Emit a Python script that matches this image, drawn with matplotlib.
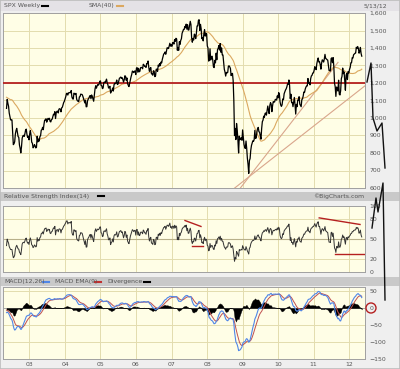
import numpy as np
import pandas as pd
import matplotlib
matplotlib.use("Agg")
import matplotlib.pyplot as plt
from matplotlib.lines import Line2D
from matplotlib.patches import Rectangle, Ellipse

# ---------------- data: SPX weekly closes (week ending Friday) ----------------
first_week = "2001-07-06"
close = [
    # 2001 Jul-Dec
    1190.59, 1215.68, 1210.85, 1205.82,
    1214.35, 1190.16, 1161.97, 1184.93, 1133.58,
    1085.78, 1092.54, 965.80, 1040.94,
    1071.38, 1091.65, 1073.48, 1104.61,
    1087.20, 1120.31, 1138.65, 1150.34, 1139.45,
    1158.31, 1123.09, 1144.89, 1161.02,
    # 2002
    1172.51, 1145.60, 1127.58, 1133.28,
    1122.20, 1096.22, 1104.18, 1089.84,
    1131.78, 1164.31, 1166.16, 1148.70, 1147.39,
    1122.73, 1111.01, 1125.17, 1076.32,
    1073.43, 1054.99, 1106.59, 1083.82, 1067.14,
    1027.53, 1007.27, 989.14, 989.82,
    989.03, 921.39, 847.75, 852.84,
    864.24, 908.64, 928.77, 940.86, 916.07,
    893.92, 889.81, 845.39, 827.37,
    800.58, 835.32, 884.39, 897.65,
    900.96, 894.74, 909.83, 930.55, 936.31,
    906.55, 889.48, 895.76, 875.40,
    # 2003
    908.59, 927.57, 901.78, 861.40, 855.70,
    829.69, 834.89, 848.17, 841.15,
    828.89, 833.27, 895.79, 863.50,
    878.85, 868.30, 893.58, 898.81,
    930.08, 933.41, 946.67, 933.22, 963.59,
    987.76, 988.61, 995.69, 976.22,
    985.70, 998.14, 993.32, 998.68,
    980.15, 977.59, 990.67, 993.06, 1008.01,
    1021.39, 1018.63, 1036.30, 996.85,
    1029.85, 1038.06, 1039.32, 1028.91, 1050.71,
    1053.21, 1050.35, 1035.28, 1058.20,
    1061.50, 1074.14, 1088.66, 1095.89,
    # 2004
    1108.48, 1121.86, 1139.83, 1141.55, 1131.13,
    1142.76, 1145.81, 1144.11, 1144.94,
    1156.86, 1120.57, 1109.78, 1108.06,
    1141.81, 1139.32, 1134.61, 1140.60, 1107.30,
    1098.70, 1095.70, 1093.56, 1120.68,
    1122.50, 1136.47, 1135.02, 1134.43,
    1125.38, 1112.81, 1101.39, 1086.20, 1101.72,
    1063.97, 1064.80, 1098.35, 1107.77,
    1113.63, 1123.92, 1128.55, 1110.11,
    1131.50, 1122.14, 1108.20, 1095.74, 1130.20,
    1166.17, 1184.17, 1170.34, 1182.65,
    1191.17, 1188.00, 1194.20, 1210.13, 1211.92,
    # 2005
    1186.19, 1184.52, 1167.87, 1171.36,
    1203.03, 1205.30, 1201.59, 1211.37,
    1222.12, 1200.08, 1190.21, 1171.42,
    1172.92, 1181.20, 1142.62, 1152.12, 1156.85,
    1171.35, 1154.05, 1189.28, 1198.78,
    1196.02, 1200.93, 1216.96, 1191.57,
    1194.44, 1211.86, 1227.92, 1229.35, 1234.18,
    1226.42, 1230.39, 1219.71, 1205.10,
    1218.02, 1241.48, 1237.91, 1215.29, 1228.81,
    1195.90, 1186.57, 1179.59, 1198.41,
    1220.14, 1234.72, 1248.27, 1268.25,
    1265.08, 1259.37, 1267.32, 1268.66, 1248.29,
    # 2006
    1285.45, 1287.61, 1261.49, 1283.72,
    1264.03, 1266.99, 1287.24, 1289.43,
    1287.23, 1281.42, 1307.25, 1302.95, 1294.83,
    1295.50, 1289.12, 1311.28, 1310.61,
    1325.76, 1291.24, 1267.03, 1280.16,
    1288.22, 1252.30, 1251.54, 1244.50, 1270.20,
    1265.48, 1236.20, 1240.29, 1278.55,
    1279.36, 1266.74, 1302.30, 1295.09,
    1311.01, 1298.92, 1319.66, 1314.78, 1335.85,
    1349.59, 1365.62, 1368.60, 1377.34,
    1364.30, 1380.90, 1401.20, 1400.95,
    1396.71, 1409.84, 1427.09, 1410.76, 1418.30,
    # 2007
    1409.71, 1430.73, 1430.50, 1422.18,
    1448.39, 1438.06, 1455.54, 1451.19,
    1387.17, 1402.84, 1386.95, 1436.11, 1420.86,
    1443.76, 1452.85, 1484.35, 1494.07,
    1505.62, 1505.85, 1522.75, 1515.73,
    1536.34, 1507.67, 1532.91, 1502.56, 1503.35,
    1530.44, 1552.50, 1534.10, 1458.95,
    1433.06, 1453.64, 1445.94, 1479.37, 1473.99,
    1453.55, 1484.25, 1525.75, 1526.75,
    1557.59, 1561.80, 1500.63, 1535.28,
    1509.65, 1453.70, 1458.74, 1440.70, 1481.14,
    1504.66, 1467.95, 1484.46, 1478.49,
    # 2008
    1411.63, 1401.02, 1325.19, 1330.61,
    1395.42, 1331.29, 1349.99, 1353.11, 1330.63,
    1293.37, 1288.14, 1329.51, 1315.22,
    1370.40, 1332.83, 1390.33, 1397.84,
    1413.90, 1388.28, 1425.35, 1375.93, 1400.38,
    1360.68, 1360.03, 1317.93, 1278.38,
    1262.90, 1239.49, 1260.68, 1257.76,
    1260.31, 1296.32, 1298.20, 1292.20, 1282.83,
    1242.31, 1251.70, 1255.08, 1213.27,
    1099.23, 899.22, 940.55, 876.77, 968.75,
    930.99, 873.29, 800.03, 896.24,
    876.07, 879.73, 887.88, 872.80,
    # 2009
    931.80, 890.35, 850.12, 831.95, 825.88,
    868.60, 826.84, 770.05, 735.09,
    683.38, 756.55, 768.54, 815.94,
    842.50, 856.56, 869.60, 866.23,
    877.52, 929.23, 882.88, 887.00, 919.14,
    940.09, 946.21, 921.23, 918.90,
    896.42, 879.13, 940.38, 979.26, 987.48,
    1010.48, 1004.09, 1026.13, 1028.93,
    1016.40, 1042.73, 1068.30, 1044.38,
    1025.21, 1071.49, 1087.68, 1079.60, 1036.19,
    1069.30, 1093.48, 1091.38, 1091.49,
    1105.98, 1106.41, 1102.47, 1126.48,
    # 2010
    1115.10, 1144.98, 1136.03, 1091.76, 1073.87,
    1066.19, 1075.51, 1109.17, 1104.49,
    1138.70, 1149.99, 1159.90, 1166.59,
    1178.10, 1194.37, 1192.13, 1217.28, 1186.69,
    1110.88, 1135.68, 1087.69, 1089.41,
    1064.88, 1091.60, 1117.51, 1076.76,
    1022.58, 1077.96, 1064.88, 1102.66, 1101.60,
    1121.64, 1079.25, 1071.69, 1064.59,
    1104.51, 1109.55, 1125.59, 1148.67,
    1146.24, 1165.15, 1176.19, 1183.08, 1183.26,
    1225.85, 1199.21, 1199.73, 1189.40,
    1224.71, 1240.40, 1243.91, 1256.77, 1257.64,
    # 2011
    1271.50, 1293.24, 1283.35, 1276.34,
    1310.87, 1329.15, 1343.01, 1319.88,
    1321.15, 1304.28, 1279.20, 1313.80,
    1332.41, 1328.17, 1319.68, 1337.38, 1363.61,
    1340.20, 1337.77, 1333.27, 1331.10,
    1300.16, 1270.98, 1271.50, 1268.45,
    1339.67, 1343.80, 1316.14, 1345.02, 1292.28,
    1199.38, 1178.81, 1123.53, 1176.80,
    1173.97, 1154.23, 1216.01, 1136.43, 1131.42,
    1155.46, 1224.58, 1238.25, 1285.09,
    1253.23, 1263.85, 1215.65, 1158.67,
    1244.28, 1255.19, 1219.66, 1265.33, 1257.60,
    # 2012
    1277.81, 1289.09, 1315.38, 1316.33,
    1344.90, 1342.64, 1361.23, 1365.74,
    1369.63, 1370.87, 1404.17, 1397.11, 1408.47,
    1398.08, 1370.26, 1378.53, 1403.36,
    1369.10, 1353.39,
]
chart_start = "2002-05-10"
sma_window = 40
rsi_period = 14
macd_fast, macd_slow, macd_signal = 12, 26, 9

price_ticks = [600, 700, 800, 900, 1000, 1100, 1200, 1300, 1400, 1500, 1600]
price_labels = ["600", "700", "800", "900", "1,000", "1,100", "1,200", "1,300", "1,400", "1,500", "1,600"]
rsi_ticks = [0, 20, 50, 80, 100]
macd_ticks = [-150, -100, -50, 0, 50]
year_ticks = [2003, 2004, 2005, 2006, 2007, 2008, 2009, 2010, 2011, 2012]
year_labels = ["03", "04", "05", "06", "07", "08", "09", "10", "11", "12"]
support_level = 1200
# trend lines through the 2009 low (anchor points: year, price)
trend_steep = [(2008.94, 600), (2011.69, 1318)]
trend_shallow = [(2008.78, 600), (2012.45, 1184)]
# RSI divergence annotations (year, rsi)
rsi_div1 = [(2007.38, 78), (2007.83, 69)]
rsi_flat1 = [(2007.58, 40), (2007.89, 40)]
rsi_div2 = [(2011.16, 82), (2012.31, 72)]
rsi_flat2 = [(2011.61, 27), (2012.48, 27)]

# ---------------- indicators ----------------
dates = pd.date_range(first_week, periods=len(close), freq="W-FRI")
tyear = (dates.year + (dates.dayofyear - 1) / 365.25).to_numpy()
s = pd.Series(close, dtype=float)
sma = s.rolling(sma_window).mean()
d = s.diff()
gain = d.clip(lower=0)
loss = -d.clip(upper=0)
ag = gain.ewm(alpha=1 / rsi_period, adjust=False).mean()
al = loss.ewm(alpha=1 / rsi_period, adjust=False).mean()
rsi = 100 - 100 / (1 + ag / al)
macd = s.ewm(span=macd_fast, adjust=False).mean() - s.ewm(span=macd_slow, adjust=False).mean()
sig = macd.ewm(span=macd_signal, adjust=False).mean()
hist = macd - sig
m = (dates >= chart_start)
x = tyear[m]

# ---------------- figure ----------------
W, H = 400, 369
fig = plt.figure(figsize=(W / 100, H / 100), dpi=100)
fig.patch.set_facecolor("#efefef")
FONT = dict(family="DejaVu Sans", size=4.4, color="#555555")

def fx(px):
    return px / W

def fy(py):
    return 1 - py / H

def band(y0, y1, color):
    fig.add_artist(Rectangle((0, fy(y1)), 1, (y1 - y0) / H, transform=fig.transFigure,
                             facecolor=color, edgecolor="none", zorder=0))

band(0, 11, "#e4e2e6")
band(192, 201, "#c9c9c9")
band(277, 286, "#c9c9c9")
fig.add_artist(Rectangle((0, 0), 1, 1, transform=fig.transFigure, fill=False,
                         edgecolor="#bdbdbd", lw=1.2, zorder=0))

XL = (2002.254, 2012.45)
FACE = "#fffee6"
GRID = "#e3dcae"

def make_ax(y0, y1):
    ax = fig.add_axes([fx(3), fy(y1), fx(362), (y1 - y0) / H])
    ax.set_facecolor(FACE)
    ax.set_xlim(*XL)
    for sp in ax.spines.values():
        sp.set_color("#a0a0a0")
        sp.set_linewidth(0.7)
    ax.yaxis.tick_right()
    ax.tick_params(axis="y", length=0, pad=3, labelsize=FONT["size"], labelcolor=FONT["color"])
    ax.tick_params(axis="x", length=0, pad=2, labelsize=FONT["size"], labelcolor=FONT["color"])
    ax.set_xticks(year_ticks)
    for yr in year_ticks:
        ax.axvline(yr, color=GRID, lw=0.7, zorder=0)
    return ax

# ---- main price panel ----
ax1 = make_ax(13, 188)
ax1.set_ylim(600, 1600)
ax1.set_yticks(price_ticks)
ax1.set_yticklabels(price_labels)
ax1.set_xticklabels([])
for v in price_ticks:
    ax1.axhline(v, color=GRID, lw=0.7, zorder=0)
ax1.axhline(support_level, color="#b52020", lw=1.3, zorder=3)
ax1.plot([p[0] for p in trend_steep], [p[1] for p in trend_steep], color="#d9a68c", lw=0.8, zorder=2)
ax1.plot([p[0] for p in trend_shallow], [p[1] for p in trend_shallow], color="#d9a68c", lw=0.8, zorder=2)
ax1.plot(x, sma[m], color="#dba860", lw=0.8, zorder=2)
ax1.plot(x, s[m], color="black", lw=0.9, zorder=4)

# ---- RSI panel ----
ax2 = make_ax(206, 272)
ax2.set_ylim(0, 100)
ax2.set_yticks(rsi_ticks)
ax2.set_xticklabels([])
for v in (20, 80):
    ax2.axhline(v, color=GRID, lw=0.7, zorder=0)
ax2.axhline(50, color="#b8b08a", lw=0.8, zorder=1)
ax2.plot(x, rsi[m], color="#333333", lw=0.7, zorder=3)
for seg in (rsi_div1, rsi_flat1, rsi_div2, rsi_flat2):
    ax2.plot([p[0] for p in seg], [p[1] for p in seg], color="#b52020", lw=1.0, zorder=4)

# ---- MACD panel ----
ax3 = make_ax(287, 359)
ax3.set_ylim(-150, 62)
ax3.set_yticks(macd_ticks)
ax3.set_xticklabels(year_labels)
for v in (50, -50, -100):
    ax3.axhline(v, color=GRID, lw=0.7, zorder=0)
ax3.axhline(0, color="#999999", lw=0.6, zorder=1)
ax3.fill_between(x, 0, hist[m], color="black", lw=0.3, zorder=2)
ax3.plot(x, sig[m], color="#c05050", lw=0.7, zorder=3)
ax3.plot(x, macd[m], color="#4f86e8", lw=0.8, zorder=4)

# ---------------- header texts & legend swatches ----------------
def txt(px, py, s_, ha="left"):
    fig.text(fx(px), fy(py), s_, ha=ha, va="center", **FONT)

def swatch(px, py, color, w=6):
    fig.add_artist(Line2D([fx(px), fx(px + w)], [fy(py), fy(py)], color=color, lw=1.5,
                          transform=fig.transFigure))

txt(4, 5.5, "SPX Weekly")
swatch(42, 5.5, "black")
txt(89, 5.5, "SMA(40)")
swatch(117, 5.5, "#dba860")
txt(364, 5.5, "5/13/12")
txt(4, 196.5, "Relative Strength Index(14)")
swatch(98, 196.5, "black")
txt(364, 196.5, "\u00a9BigCharts.com", ha="right")
txt(4, 282, "MACD(12,26)")
swatch(43, 282, "#4f86e8")
txt(55, 282, "MACD EMA(9)")
swatch(95, 282, "#c03030")
txt(107, 282, "Divergence")
swatch(144, 282, "black")

# ---------------- hand-drawn annotations ----------------
hand1 = [(367, 82), (371, 63), (373, 118), (377, 131), (382, 123), (385, 168)]
hand2 = [(372, 228), (376, 198), (378, 212), (383, 183), (385, 300)]
for path in (hand1, hand2):
    fig.add_artist(Line2D([fx(p[0]) for p in path], [fy(p[1]) for p in path],
                          color="#111111", lw=1.0, transform=fig.transFigure, zorder=10))
fig.add_artist(Ellipse((fx(371), fy(308)), 10 / W, 10 / H, transform=fig.transFigure,
                       fill=False, edgecolor="#b52020", lw=1.0, zorder=10))

fig.savefig("out.png", dpi=100, facecolor=fig.get_facecolor())
